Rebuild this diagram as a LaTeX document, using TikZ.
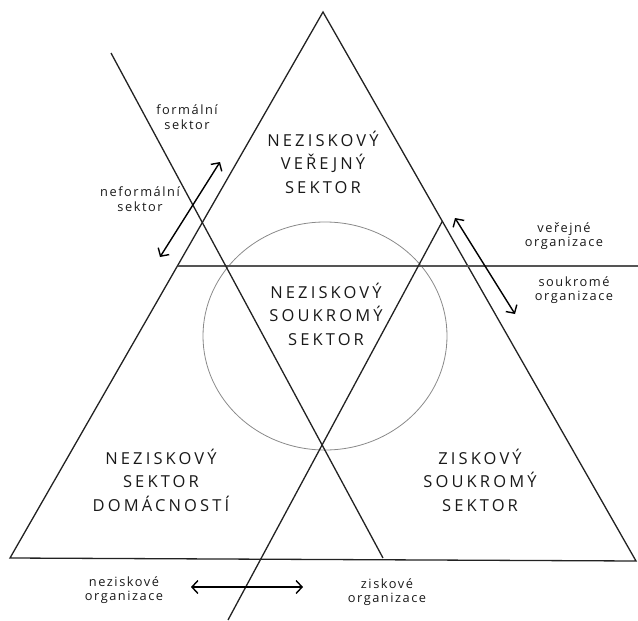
\documentclass[tikz,border=0pt]{standalone}
\usepackage{fontspec}
\setmainfont{Open Sans}
\newfontfamily\bigfont[LetterSpace=19]{Open Sans}
\newfontfamily\smallfont[LetterSpace=12]{Open Sans}
\usetikzlibrary{arrows.meta}
\definecolor{edge}{HTML}{222222}
\definecolor{hline}{HTML}{555555}
\definecolor{ring}{HTML}{8A8A8A}
\tikzset{
  edgeline/.style={draw=edge, line width=1.3pt, line join=miter},
  divline/.style={draw=hline, line width=1.9pt},
  ringline/.style={draw=ring, line width=0.8pt},
  dblarrow/.style={draw=black, line width=1.4pt, {Straight Barb[length=6pt,width=13pt]}-{Straight Barb[length=6pt,width=13pt]}},
  biglabel/.style={align=center, inner sep=0pt, font=\bigfont\fontsize{16.5}{23.5}\selectfont, text=black!90},
  smalllabel/.style={align=center, inner sep=0pt, font=\smallfont\fontsize{12.8}{14.5}\selectfont, text=black!90}
}
\begin{document}
\begin{tikzpicture}[x=1pt, y=-1pt]
\useasboundingbox (0,0) rectangle (638,621);
% triangle corners
\coordinate (apex) at (323,12);
\coordinate (bl) at (10,558);
\coordinate (br) at (636,561);
% horizontal divider
\coordinate (hl) at (177.5,266);
\coordinate (hr) at (638,266);
% diagonal lines
\coordinate (d1a) at (111,53);
\coordinate (d1b) at (383,558);
\coordinate (d2a) at (442.5,221);
\coordinate (d2b) at (228,620);
% ellipse
\coordinate (ec) at (325,336);
\draw[ringline] (ec) ellipse [x radius=122, y radius=114];
\draw[edgeline] (bl) -- (apex) -- (br) -- cycle;
\draw[divline] (hl) -- (hr);
\draw[edgeline] (d1a) -- (d1b);
\draw[edgeline] (d2a) -- (d2b);
% arrows
\coordinate (a1a) at (160,257);
\coordinate (a1b) at (220,162);
\coordinate (a2a) at (455,218);
\coordinate (a2b) at (515,314);
\coordinate (a3a) at (191,587);
\coordinate (a3b) at (303,587);
\draw[dblarrow] (a1a) -- (a1b);
\draw[dblarrow] (a2a) -- (a2b);
\draw[dblarrow] (a3a) -- (a3b);
% big labels
\node[biglabel] (pub) at (323,162) {NEZISKOVÝ\\VEŘEJNÝ\\SEKTOR};
\node[biglabel] (mid) at (326,314) {NEZISKOVÝ\\SOUKROMÝ\\SEKTOR};
\node[biglabel] (hh) at (161,480) {NEZISKOVÝ\\SEKTOR\\DOMÁCNOSTÍ};
\node[biglabel] (prof) at (480,480) {ZISKOVÝ\\SOUKROMÝ\\SEKTOR};
% small labels
\node[smalllabel] (formal) at (187,117) {formální\\sektor};
\node[smalllabel] (informal) at (140,199) {neformální\\sektor};
\node[smalllabel] (public) at (564,236) {veřejné\\organizace};
\node[smalllabel] (private) at (574,290) {soukromé\\organizace};
\node[smalllabel] (np) at (124,590) {neziskové\\organizace};
\node[smalllabel] (fp) at (387,592) {ziskové\\organizace};
\end{tikzpicture}
\end{document}
